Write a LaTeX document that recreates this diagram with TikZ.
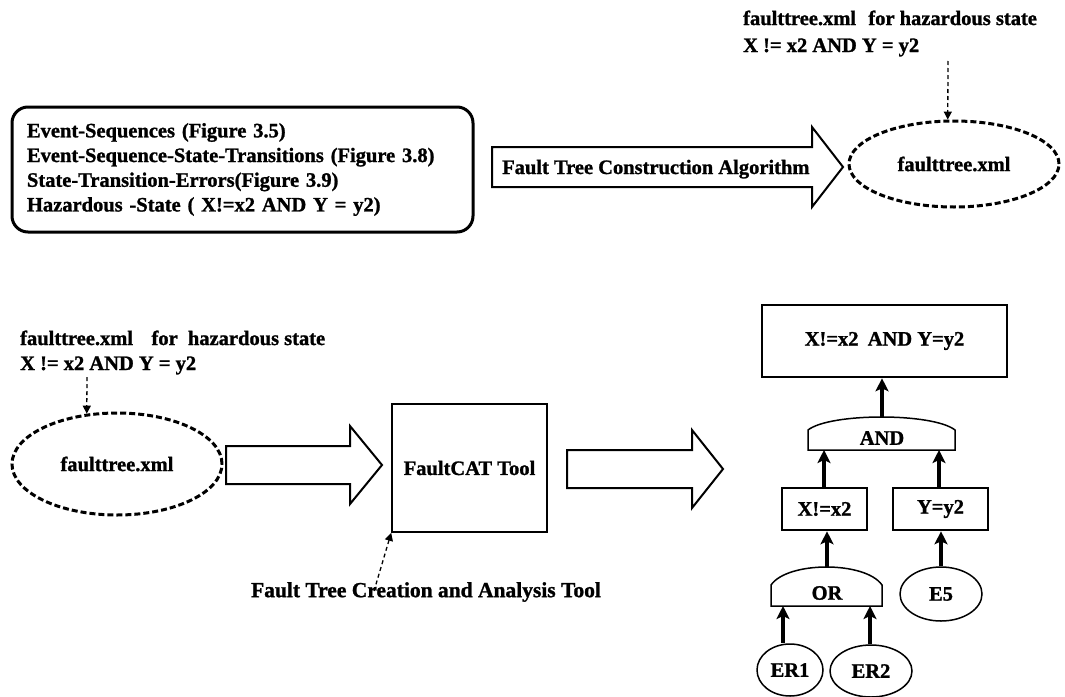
\documentclass[tikz,border=0pt]{standalone}
\usepackage{fontspec}
\setmainfont{Liberation Serif}[BoldFeatures={FakeBold=1.2}]
\usetikzlibrary{arrows.meta,calc,shapes.geometric}

% hollow block arrow: tail x, tip x, centre y, half shaft, half head, head length
\newcommand\fatarrow[6]{%
  \draw[blockarrow] (#1,#3-#4) -- (#2-#6,#3-#4) -- (#2-#6,#3-#5) -- (#2,#3)
    -- (#2-#6,#3+#5) -- (#2-#6,#3+#4) -- (#1,#3+#4) -- cycle;}

% gate outline: left x, right x, base y, shoulder y, peak y
\newcommand\gateshape[5]{%
  \draw[gateline] (#1,#3) -- (#1,#4)
    .. controls ({#1+0.15*(#2-#1)},{#4+(#5-#4)/0.75}) and ({#2-0.15*(#2-#1)},{#4+(#5-#4)/0.75}) .. (#2,#4)
    -- (#2,#3) -- cycle;}

\begin{document}
\begin{tikzpicture}[x=1pt,y=-1pt,
  txt/.style={font=\fontsize{20.5}{24.7}\selectfont\bfseries, inner sep=0pt},
  roundbox/.style={txt, draw, line width=3pt, rounded corners=16pt,
    minimum width=461pt, minimum height=125pt, text width=431pt, align=left},
  dashell/.style={txt, draw, ellipse, line width=3pt, dash pattern=on 6pt off 3pt,
    minimum width=210pt},
  blockarrow/.style={draw, line width=2pt, line join=miter},
  toolbox/.style={txt, draw, line width=1.6pt, minimum width=155pt, minimum height=128pt},
  treebox/.style={txt, draw, line width=2.6pt},
  evt/.style={txt, draw, ellipse, line width=1.5pt, minimum height=52pt},
  gateline/.style={draw, line width=1.5pt},
  up/.style={line width=3.5pt, -{Stealth[length=13pt,width=13pt,inset=3pt]}},
  note/.style={line width=1.3pt, dash pattern=on 4pt off 3pt, -{Triangle[length=8pt,width=8pt]}}
]
\useasboundingbox[fill=white] (0,0) rectangle (1065,696);

% ---------- upper row ----------
\node[roundbox] (in) at (242.5,169.5)
  {Event-Sequences (Figure 3.5)\\
   Event-Sequence-State-Transitions (Figure 3.8)\\
   State-Transition-Errors(Figure 3.9)\\
   Hazardous -State ( X!=x2 AND Y = y2)};

\fatarrow{492}{843}{167}{20}{40}{31}
\node[txt, anchor=base west] (alg) at (502,174) {Fault Tree Construction Algorithm};

\node[dashell, minimum height=86pt] (ftA) at (954,164) {faulttree.xml};
\node[txt, anchor=base west] (tA1) at (743,25) {faulttree.xml\hspace{0.6em}for hazardous state};
\node[txt, anchor=base west] (tA2) at (743,52) {X != x2 AND Y = y2};
\coordinate (nA) at (948,61);
\draw[note] (nA) -- (ftA.98);

% ---------- lower row ----------
\node[txt, anchor=base west] (tB1) at (20,345) {faulttree.xml\hspace{0.9em}for\hspace{0.5em}hazardous state};
\node[txt, anchor=base west] (tB2) at (20,370) {X != x2 AND Y = y2};
\node[dashell, minimum height=102pt] (ftB) at (117,464) {faulttree.xml};
\coordinate (nB) at (87,377);
\draw[note] (nB) -- (ftB.121.5);

\fatarrow{226}{382}{465}{19}{39}{32}

\node[toolbox] (fc) at (469.5,468) {FaultCAT Tool};
\node[txt, font=\fontsize{21.5}{25}\selectfont\bfseries] (fcl) at (426,592) {Fault Tree Creation and Analysis Tool};
\draw[note] ([xshift=-52pt,yshift=-9pt]fcl.north) -- (fc.south west);

\fatarrow{567}{723}{469}{19}{39}{31}

% ---------- fault tree ----------
\node[treebox, minimum width=245pt, minimum height=72pt] (top) at (884.5,341) {X!=x2\hspace{0.45em}AND Y=y2};

\gateshape{808}{955}{450}{430}{417}
\node[txt] (and) at (882,438) {AND};
\coordinate (andTop) at (882,417);
\coordinate (andBot) at (882,450);

\node[treebox, minimum width=85pt, minimum height=42pt] (bx) at (824.5,509) {X!=x2};
\node[treebox, minimum width=95pt, minimum height=42pt] (by) at (940.5,509) {Y=y2};

\gateshape{771}{882}{606}{585}{567}
\node[txt] (or) at (827,593) {OR};
\coordinate (orTop) at (827,567);
\coordinate (orBot) at (827,606);

\node[evt, minimum width=82pt, minimum height=54pt] (e5) at (941,594) {E5};
\node[evt, minimum width=66pt] (er1) at (790,670) {ER1};
\node[evt, minimum width=82pt] (er2) at (871,671) {ER2};

\draw[up] (andTop) -- (andTop |- top.south);
\draw[up] ([xshift=-0.5pt]bx.north) -- ([xshift=-0.5pt]bx.north |- andBot);
\draw[up] ([xshift=-1.5pt]by.north) -- ([xshift=-1.5pt]by.north |- andBot);
\draw[up] (orTop) -- (orTop |- bx.south);
\draw[up] (e5.north) -- (e5.north |- by.south);
\draw[up] ([xshift=-7pt]er1.north) -- ([xshift=-7pt]er1.north |- orBot);
\draw[up] ([xshift=-1pt]er2.north) -- ([xshift=-1pt]er2.north |- orBot);
\end{tikzpicture}
\end{document}
